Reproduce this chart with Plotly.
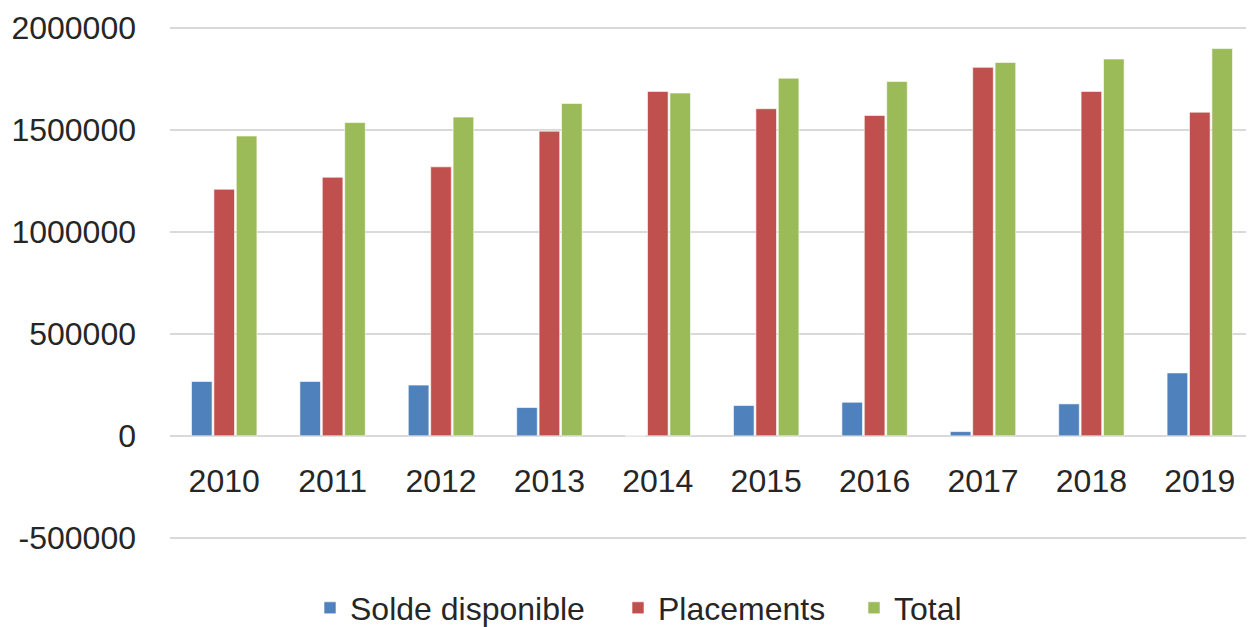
import plotly.graph_objects as go

years = ["2010", "2011", "2012", "2013", "2014", "2015", "2016", "2017", "2018", "2019"]
solde = [267000, 267000, 249000, 139000, 0, 149000, 165000, 21000, 157000, 309000]
placements = [1210000, 1269000, 1320000, 1495000, 1690000, 1605000, 1572000, 1808000, 1690000, 1588000]
total = [1471000, 1537000, 1564000, 1631000, 1682000, 1755000, 1739000, 1832000, 1849000, 1900000]

series_names = ["Solde disponible", "Placements", "Total"]
colors = ["#4F81BD", "#C0504D", "#9BBB59"]
ytick_vals = [-500000, 0, 500000, 1000000, 1500000, 2000000]
ytick_text = ["-500000", "0", "500000", "1000000", "1500000", "2000000"]

FONT = "Liberation Sans"
FS = 32
TXT = "#262626"

# page body has an 8px default margin, so the figure is sized to fit the window
W, H = 1246, 619
legend_keys = ["legend", "legend2", "legend3"]
legend_left_px = [302, 610, 846]

fig = go.Figure()
for name, vals, col, lk in zip(series_names, [solde, placements, total], colors, legend_keys):
    fig.add_trace(go.Bar(
        x=years, y=vals, name=name, legend=lk,
        marker=dict(color=col, line=dict(color="rgba(255,255,255,0.6)", width=1)),
    ))

legend_common = dict(
    orientation="h", xref="container", yref="container", xanchor="left", yanchor="middle",
    y=(H - 600) / H, font=dict(family=FONT, size=FS, color=TXT), itemwidth=30,
    bgcolor="rgba(0,0,0,0)",
)

fig.update_layout(
    width=W, height=H,
    paper_bgcolor="white", plot_bgcolor="white",
    margin=dict(l=162, r=0, t=19, b=88),
    barmode="group", bargap=0.38, bargroupgap=0.08,
    font=dict(family=FONT, size=FS, color=TXT),
    showlegend=True,
    legend=dict(x=legend_left_px[0] / W, **legend_common),
    legend2=dict(x=legend_left_px[1] / W, **legend_common),
    legend3=dict(x=legend_left_px[2] / W, **legend_common),
    xaxis=dict(
        type="category", anchor="free", position=6000 / 2512000 + 0.2 * 2500000 / 2512000,
        automargin=False,
        showgrid=False, showline=False, zeroline=False,
        ticks="", ticklabelstandoff=23,
        tickfont=dict(family=FONT, size=FS, color=TXT),
    ),
    yaxis=dict(
        range=[-506000, 2006000], tickvals=ytick_vals, ticktext=ytick_text,
        automargin=False,
        showgrid=True, gridcolor="#D9D9D9", gridwidth=2,
        zeroline=True, zerolinecolor="#D9D9D9", zerolinewidth=2,
        showline=False, ticks="", ticklabelstandoff=33,
        tickfont=dict(family=FONT, size=FS, color=TXT),
    ),
)

fig.write_html("out.html")
